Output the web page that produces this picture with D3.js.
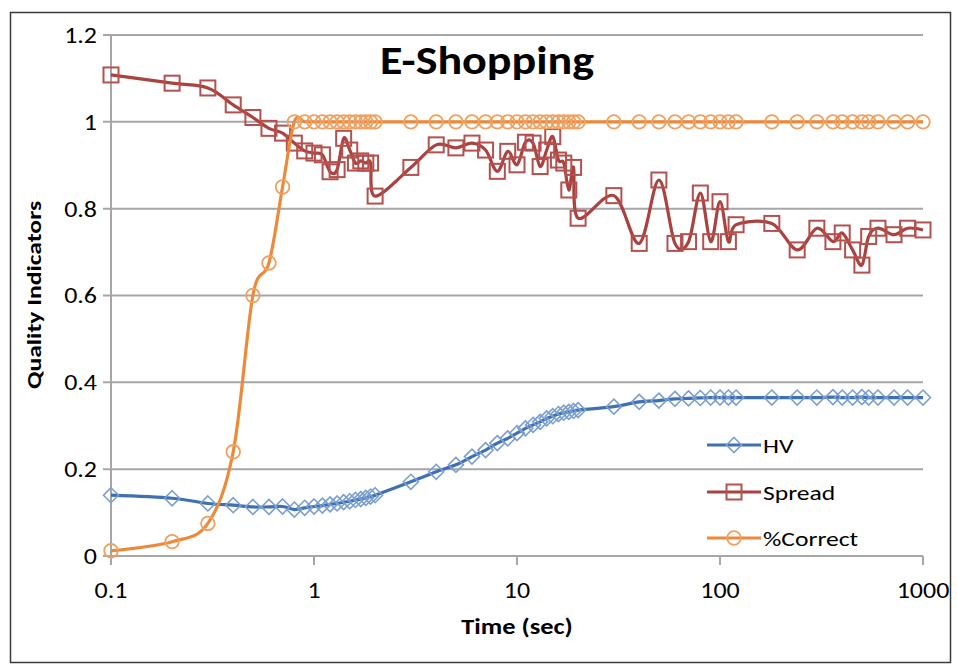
<!DOCTYPE html>
<html>
<head>
<meta charset="utf-8">
<script src="https://cdn.jsdelivr.net/npm/d3@7"></script>
<style>
  html, body { margin: 0; padding: 0; background: #fff; }
  svg { display: block; font-family: Carlito, Lato, "Open Sans", sans-serif; }
</style>
</head>
<body>
<svg id="chart" width="957" height="669"></svg>
<script>
// Elapsed time of each sample (seconds)
const times = [0.1,0.2,0.3,0.4,0.5,0.6,0.7,0.8,0.9,1.0,1.1,1.2,1.3,1.4,1.5,1.6,1.7,1.8,1.9,2.0,
  3,4,5,6,7,8,9,10,11,12,13,14,15,16,17,18,19,20,
  30,40,50,60,70,80,90,100,110,120,
  180,240,300,360,400,450,500,540,600,720,840,1000];

// Hypervolume
const hv = [0.140,0.133,0.121,0.117,0.113,0.113,0.114,0.107,0.111,0.114,0.116,0.119,0.121,0.124,0.126,0.129,0.131,0.134,0.137,0.140,
  0.171,0.194,0.210,0.229,0.244,0.260,0.271,0.283,0.294,0.302,0.309,0.317,0.322,0.327,0.330,0.332,0.334,0.336,
  0.344,0.355,0.358,0.362,0.363,0.364,0.365,0.365,0.365,0.365,
  0.365,0.365,0.365,0.366,0.365,0.365,0.366,0.365,0.365,0.365,0.365,0.365];

// Spread
const spread = [1.108,1.089,1.078,1.039,1.010,0.985,0.974,0.951,0.933,0.928,0.924,0.885,0.890,0.962,0.935,0.905,0.910,0.905,0.905,0.829,
  0.895,0.947,0.940,0.951,0.935,0.886,0.932,0.901,0.953,0.951,0.897,0.935,0.966,0.912,0.905,0.843,0.895,0.778,
  0.830,0.720,0.866,0.720,0.724,0.836,0.724,0.816,0.724,0.763,
  0.766,0.705,0.755,0.724,0.744,0.705,0.670,0.736,0.755,0.740,0.755,0.751];

// Share of correct solutions
const correct = [0.012,0.033,0.075,0.240,0.600,0.675,0.850,1,1,1,1,1,1,1,1,1,1,1,1,1,
  1,1,1,1,1,1,1,1,1,1,1,1,1,1,1,1,1,1,
  1,1,1,1,1,1,1,1,1,1,
  1,1,1,1,1,1,1,1,1,1,1,1];

const xTicks = [0.1, 1, 10, 100, 1000];
const yTicks = [0, 0.2, 0.4, 0.6, 0.8, 1.0, 1.2];
const seriesNames = ["HV", "Spread", "%Correct"];

const svg = d3.select("#chart");
const plot = { left: 111, right: 923, top: 35, bottom: 556 };

const x = d3.scaleLog().domain([0.1, 1000]).range([plot.left, plot.right]);
const y = d3.scaleLinear().domain([0, 1.2]).range([plot.bottom, plot.top]);

// text is set in a slightly widened face
const STRETCH = 1.18;
function label(parent, px, py, str, opts = {}) {
  const g = parent.append("g")
    .attr("transform", `translate(${px},${py})${opts.rotate ? ` rotate(${opts.rotate})` : ""} scale(${opts.sx || STRETCH},1)`);
  return g.append("text")
    .attr("text-anchor", opts.anchor || "start")
    .attr("dy", opts.dy || "0.36em")
    .attr("font-size", opts.size || 21)
    .attr("font-weight", opts.weight || "normal")
    .attr("fill", "#000")
    .text(str);
}

// chart frame
svg.append("rect")
  .attr("x", 10.5).attr("y", 12.5)
  .attr("width", 940).attr("height", 650)
  .attr("fill", "#fff").attr("stroke", "#3a3a3a").attr("stroke-width", 1.5);

const gridColor = "#a6a6a6";

// horizontal gridlines with left tick marks
svg.append("g")
  .selectAll("line")
  .data(yTicks)
  .join("line")
  .attr("x1", plot.left - 8).attr("x2", plot.right)
  .attr("y1", d => y(d)).attr("y2", d => y(d))
  .attr("stroke", gridColor).attr("stroke-width", 2);

// y axis line
svg.append("line")
  .attr("x1", plot.left).attr("x2", plot.left)
  .attr("y1", plot.top).attr("y2", plot.bottom + 1)
  .attr("stroke", gridColor).attr("stroke-width", 2);

// x tick marks
svg.append("g")
  .selectAll("line")
  .data(xTicks)
  .join("line")
  .attr("x1", d => x(d)).attr("x2", d => x(d))
  .attr("y1", plot.bottom).attr("y2", plot.bottom + 9)
  .attr("stroke", gridColor).attr("stroke-width", 2);

const fmt = d3.format("~g");

// y tick labels
const yLab = svg.append("g");
yTicks.forEach(d => label(yLab, plot.left - 14, y(d), fmt(d), { anchor: "end", size: 22 }));

// x tick labels
const xLab = svg.append("g");
xTicks.forEach(d => label(xLab, x(d), 590, fmt(d), { anchor: "middle", size: 22 }));

// axis titles
label(svg, 517, 626, "Time (sec)", { anchor: "middle", size: 22, weight: "bold", sx: 1.2 });
label(svg, 33, 295, "Quality Indicators", { anchor: "middle", size: 21, weight: "bold", rotate: -90, sx: 1.22 });

// chart title
label(svg, 487, 60, "E-Shopping", { anchor: "middle", size: 40, weight: "bold", sx: 1.15 });

const styles = [
  { name: seriesNames[0], values: hv,      line: "#3e70b2", marker: "#7b9fd2", shape: "diamond" },
  { name: seriesNames[1], values: spread,  line: "#aa4240", marker: "#b4504d", shape: "square" },
  { name: seriesNames[2], values: correct, line: "#ec8a3a", marker: "#f0a061", shape: "circle" }
];

const line = d3.line()
  .x(d => x(d[0]))
  .y(d => y(d[1]))
  .curve(d3.curveCatmullRom.alpha(0));

function drawMarker(g, shape, color) {
  if (shape === "diamond") {
    g.append("path").attr("d", "M0,-7.5L7.5,0L0,7.5L-7.5,0Z")
      .attr("fill", "none").attr("stroke", color).attr("stroke-width", 1.6);
  } else if (shape === "square") {
    g.append("rect").attr("x", -7.5).attr("y", -7.5).attr("width", 15).attr("height", 15)
      .attr("fill", "none").attr("stroke", color).attr("stroke-width", 2);
  } else {
    g.append("circle").attr("r", 6.8)
      .attr("fill", "none").attr("stroke", color).attr("stroke-width", 1.8);
  }
}

// draw order: HV, Spread, %Correct
styles.forEach(s => {
  const pts = times.map((t, i) => [t, s.values[i]]);
  const g = svg.append("g");
  g.append("path")
    .attr("d", line(pts))
    .attr("fill", "none")
    .attr("stroke", s.line)
    .attr("stroke-width", 3.2);
  g.selectAll("g.m")
    .data(pts)
    .join("g")
    .attr("class", "m")
    .attr("transform", d => `translate(${x(d[0])},${y(d[1])})`)
    .each(function () { drawMarker(d3.select(this), s.shape, s.marker); });
});

// legend
const legend = svg.append("g");
const legendRows = [445, 492, 538];
styles.forEach((s, i) => {
  const row = legend.append("g").attr("transform", `translate(707,${legendRows[i]})`);
  row.append("line").attr("x1", 0).attr("x2", 54).attr("y1", 0).attr("y2", 0)
    .attr("stroke", s.line).attr("stroke-width", 3.2);
  const m = row.append("g").attr("transform", "translate(27,0)");
  drawMarker(m, s.shape, s.marker);
  label(row, 56, 0, s.name, { size: 21, sx: 1.22 });
});
</script>
</body>
</html>
